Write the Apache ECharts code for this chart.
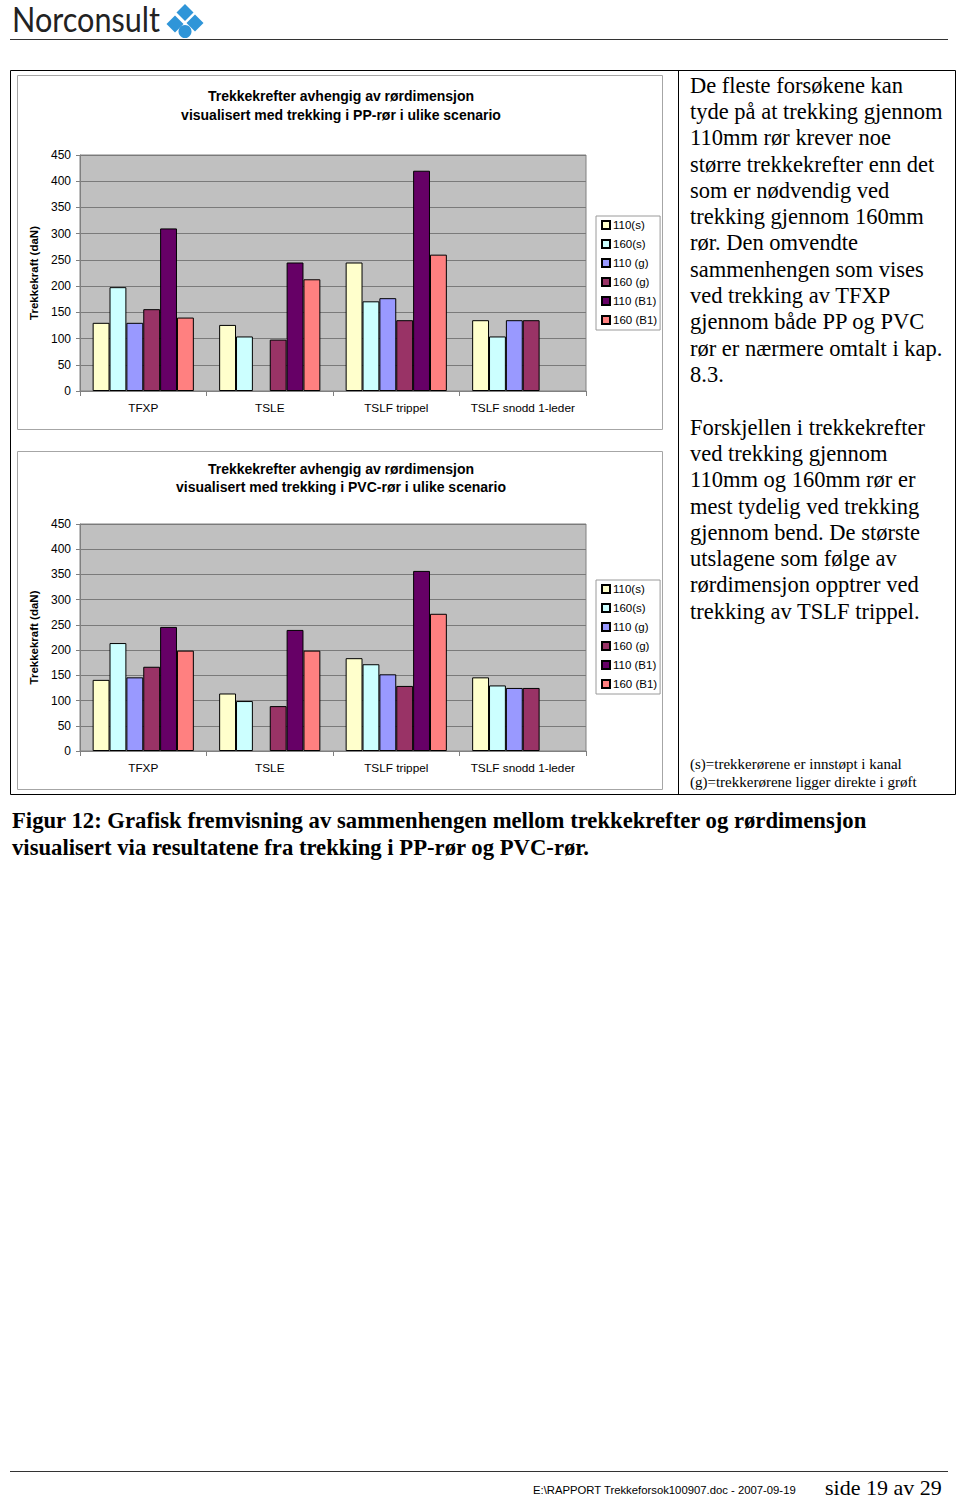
<!DOCTYPE html>
<html><head><meta charset="utf-8">
<script src="https://cdn.jsdelivr.net/npm/echarts@6/dist/echarts.min.js"></script>
<style>html,body{margin:0;padding:0;background:#fff;}#c{width:960px;height:1498px;}</style>
</head><body><div id="c"></div>
<script>
// ---- data ----
const categories = ['TFXP', 'TSLE', 'TSLF trippel', 'TSLF snodd 1-leder'];
const seriesNames = ['110(s)', '160(s)', '110 (g)', '160 (g)', '110 (B1)', '160 (B1)'];
const colors = ['#FFFFCC', '#CCFFFF', '#9999FF', '#993366', '#660066', '#FF8080'];
// PP-rør
const pp110s  = [130, 126, 245, 135];
const pp160s  = [198, 104, 171, 104];
const pp110g  = [130, null, 177, 135];
const pp160g  = [156, 98, 135, 135];
const pp110B1 = [310, 245, 420, null];
const pp160B1 = [140, 213, 260, null];
// PVC-rør
const pvc110s  = [141, 114, 184, 146];
const pvc160s  = [214, 99, 172, 130];
const pvc110g  = [146, null, 152, 125];
const pvc160g  = [167, 89, 129, 125];
const pvc110B1 = [246, 240, 357, null];
const pvc160B1 = [199, 199, 272, null];
const yMin = 0, yMax = 450, yInterval = 50;
const yAxisTitle = 'Trekkekraft (daN)';
const title1 = 'Trekkekrefter avhengig av rørdimensjon\nvisualisert med trekking i PP-rør i ulike scenario';
const title2 = 'Trekkekrefter avhengig av rørdimensjon\nvisualisert med trekking i PVC-rør i ulike scenario';
const para1 = ['De fleste forsøkene kan', 'tyde på at trekking gjennom', '110mm rør krever noe', 'større trekkekrefter enn det', 'som er nødvendig ved', 'trekking gjennom 160mm', 'rør. Den omvendte', 'sammenhengen som vises', 'ved trekking av TFXP', 'gjennom både PP og PVC', 'rør er nærmere omtalt i kap.', '8.3.'];
const para2 = ['Forskjellen i trekkekrefter', 'ved trekking gjennom', '110mm og 160mm rør er', 'mest tydelig ved trekking', 'gjennom bend. De største', 'utslagene som følge av', 'rørdimensjon opptrer ved', 'trekking av TSLF trippel.'];
const notes = ['(s)=trekkerørene er innstøpt i kanal', '(g)=trekkerørene ligger direkte i grøft'];
const caption = ['Figur 12: Grafisk fremvisning av sammenhengen mellom trekkekrefter og rørdimensjon', 'visualisert via resultatene fra trekking i PP-rør og PVC-rør.'];
const footerLeft = 'E:\\RAPPORT Trekkeforsok100907.doc - 2007-09-19';
const footerRight = 'side 19 av 29';

const ppData = [pp110s, pp160s, pp110g, pp160g, pp110B1, pp160B1];
const pvcData = [pvc110s, pvc160s, pvc110g, pvc160g, pvc110B1, pvc160B1];

const SANS = '"Liberation Sans", Arial, sans-serif';
const SERIF = '"Liberation Serif", "Times New Roman", serif';

function xAxis(gi) {
  return {
    type: 'category', gridIndex: gi, data: categories,
    axisLine: {lineStyle: {color: '#808080'}},
    axisTick: {show: true, length: 5, lineStyle: {color: '#808080'}},
    axisLabel: {interval: 0, hideOverlap: false, fontSize: 11.8, color: '#000', fontFamily: SANS, margin: 11}
  };
}
function yAxis(gi) {
  return {
    type: 'value', gridIndex: gi, min: yMin, max: yMax, interval: yInterval,
    name: yAxisTitle, nameLocation: 'middle', nameGap: 38,
    nameTextStyle: {fontSize: 11.5, fontWeight: 'bold', color: '#000', fontFamily: SANS},
    axisLine: {show: true, lineStyle: {color: '#808080'}},
    axisTick: {show: true, length: 4, lineStyle: {color: '#808080'}},
    axisLabel: {fontSize: 12, color: '#000', fontFamily: SANS, margin: 9},
    splitLine: {show: true, lineStyle: {color: '#7a7a7a', width: 1}}
  };
}
const series = [];
[ppData, pvcData].forEach((set, gi) => {
  set.forEach((d, i) => {
    series.push({
      type: 'bar', name: seriesNames[i], xAxisIndex: gi, yAxisIndex: gi, data: d,
      barGap: '0%', barCategoryGap: '20%',
      itemStyle: {color: colors[i], borderColor: '#000', borderWidth: 1},
      emphasis: {disabled: true}, animation: false
    });
  });
});

function legend(top) {
  return {
    data: seriesNames, orient: 'vertical', left: 596, top: top,
    itemWidth: 8, itemHeight: 8, itemGap: 7, icon: 'rect',
    padding: [3, 3, 4, 5], borderColor: '#9a9a9a', borderWidth: 1, backgroundColor: '#fff',
    textStyle: {fontSize: 11.5, color: '#000', fontFamily: SANS, lineHeight: 12, padding: [0, 0, 0, -2]},
    selectedMode: false
  };
}

function textLines(lines, x, y, size, lh, opts) {
  return {
    type: 'text', x: x, y: y,
    style: Object.assign({text: lines.join('\n'), fontSize: size, lineHeight: lh, fontFamily: SERIF, fill: '#000', verticalAlign: 'top', align: 'left'}, opts || {})
  };
}

const graphic = [
  // header logo
  {type: 'text', x: 12, y: 2, scaleX: 0.9, style: {text: 'Norconsult', fontSize: 34, fontFamily: 'Lato, "Open Sans", sans-serif', fill: '#222', verticalAlign: 'top'}},
  {type: 'polygon', shape: {points: [[185, 4], [193.5, 12.5], [185, 21], [176.5, 12.5]]}, style: {fill: '#2f95d8'}},
  {type: 'polygon', shape: {points: [[175, 15.5], [183.5, 24], [175, 32.5], [166.5, 24]]}, style: {fill: '#2f95d8'}},
  {type: 'polygon', shape: {points: [[195, 14.5], [203.5, 23], [195, 31.5], [186.5, 23]]}, style: {fill: '#2f95d8'}},
  {type: 'circle', shape: {cx: 185, cy: 31.5, r: 6.5}, style: {fill: '#2f95d8'}},
  {type: 'line', shape: {x1: 10, y1: 39.5, x2: 948, y2: 39.5}, style: {stroke: '#333', lineWidth: 1}},
  // frames
  {type: 'rect', z: -10, shape: {x: 10.5, y: 70.5, width: 945, height: 724}, style: {fill: 'none', stroke: '#000', lineWidth: 1}},
  {type: 'line', shape: {x1: 678.5, y1: 70, x2: 678.5, y2: 795}, style: {stroke: '#000', lineWidth: 1}},
  {type: 'rect', z: -10, shape: {x: 17.5, y: 75.5, width: 645, height: 354}, style: {fill: 'none', stroke: '#a6a6a6', lineWidth: 1}},
  {type: 'rect', z: -10, shape: {x: 17.5, y: 451.5, width: 645, height: 338}, style: {fill: 'none', stroke: '#a6a6a6', lineWidth: 1}},
  // chart titles
  {type: 'text', x: 341, y: 86, style: {text: title1, fontSize: 14, fontWeight: 'bold', fontFamily: SANS, lineHeight: 19, fill: '#000', align: 'center', verticalAlign: 'top'}},
  {type: 'text', x: 341, y: 460, style: {text: title2, fontSize: 14, fontWeight: 'bold', fontFamily: SANS, lineHeight: 18, fill: '#000', align: 'center', verticalAlign: 'top'}},
  // right column text
  textLines(para1, 690, 72, 22.5, 26.3),
  textLines(para2, 690, 414, 22.5, 26.3),
  textLines(notes, 690, 755, 15, 18),
  // caption
  textLines(caption, 12, 807, 22.7, 27, {fontWeight: 'bold'}),
  // footer
  {type: 'line', shape: {x1: 10, y1: 1471.5, x2: 948, y2: 1471.5}, style: {stroke: '#333', lineWidth: 1}},
  {type: 'text', x: 533, y: 1490, style: {text: footerLeft, fontSize: 11.3, fontFamily: SANS, fill: '#000', verticalAlign: 'middle', lineHeight: 13}},
  {type: 'text', x: 825, y: 1487, style: {text: footerRight, fontSize: 22, fontFamily: SERIF, fill: '#000', verticalAlign: 'middle', lineHeight: 18}}
];

const chart = echarts.init(document.getElementById('c'), null, {renderer: 'svg'});
chart.setOption({
  animation: false,
  backgroundColor: '#fff',
  textStyle: {fontFamily: SANS},
  grid: [
    {left: 80, top: 155, width: 506, height: 236, show: true, backgroundColor: '#C0C0C0', borderColor: '#808080', borderWidth: 1},
    {left: 80, top: 524, width: 506, height: 227, show: true, backgroundColor: '#C0C0C0', borderColor: '#808080', borderWidth: 1}
  ],
  xAxis: [xAxis(0), xAxis(1)],
  yAxis: [yAxis(0), yAxis(1)],
  legend: [legend(216), legend(580)],
  series: series,
  graphic: graphic
});
</script></body></html>
